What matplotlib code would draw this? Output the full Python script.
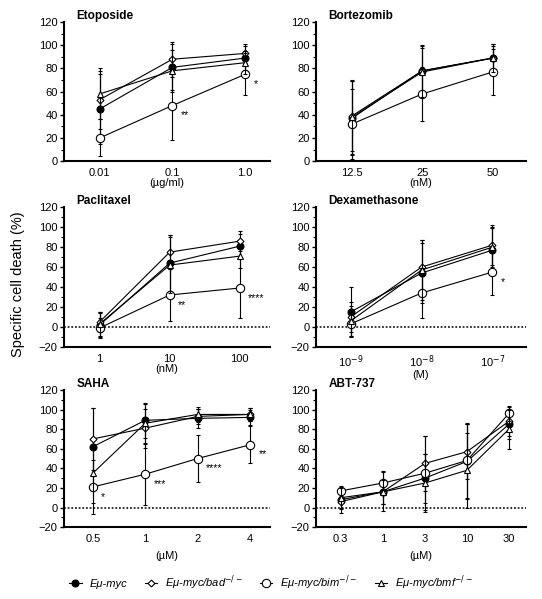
import matplotlib
matplotlib.use("Agg")
import matplotlib.pyplot as plt
from matplotlib.ticker import MultipleLocator
from matplotlib.lines import Line2D

plt.rcParams['font.family'] = ['Liberation Sans', 'DejaVu Sans']

# series order: Eu-myc, Eu-myc/bad-/-, Eu-myc/bim-/-, Eu-myc/bmf-/-
series_names = ['E\u03bc-myc', 'E\u03bc-myc/bad$^{-/-}$', 'E\u03bc-myc/bim$^{-/-}$', 'E\u03bc-myc/bmf$^{-/-}$']

eto_doses = ['0.01', '0.1', '1.0']
eto_mean = [[45, 81, 89], [53, 88, 93], [20, 48, 75], [58, 78, 85]]
eto_err = [[30, 20, 10], [25, 15, 8], [16, 30, 18], [22, 18, 10]]
eto_stars = ['', '**', '*']

bort_doses = ['12.5', '25', '50']
bort_mean = [[37, 78, 89], [39, 78, 89], [32, 58, 77], [38, 77, 89]]
bort_err = [[32, 22, 12], [30, 20, 10], [30, 23, 20], [32, 22, 12]]
bort_stars = ['', '', '']

pacl_doses = ['1', '10', '100']
pacl_mean = [[2, 64, 81], [5, 75, 86], [-1, 32, 39], [3, 62, 71]]
pacl_err = [[12, 28, 12], [10, 17, 10], [10, 26, 30], [12, 28, 12]]
pacl_stars = ['', '**', '****']

dexa_doses = ['10$^{-9}$', '10$^{-8}$', '10$^{-7}$']
dexa_mean = [[15, 54, 77], [10, 60, 82], [3, 34, 55], [6, 57, 80]]
dexa_err = [[25, 30, 22], [15, 27, 20], [12, 25, 23], [15, 30, 20]]
dexa_stars = ['', '', '*']

saha_doses = ['0.5', '1', '2', '4']
saha_mean = [[62, 89, 91, 92], [70, 81, 93, 95], [21, 34, 50, 64], [35, 86, 95, 95]]
saha_err = [[40, 18, 10, 8], [32, 20, 8, 7], [28, 31, 24, 19], [30, 20, 8, 7]]
saha_stars = ['*', '***', '****', '**']

abt_doses = ['0.3', '1', '3', '10', '30']
abt_mean = [[8, 16, 30, 47, 85], [6, 16, 45, 57, 88], [17, 25, 35, 48, 96], [10, 16, 25, 38, 80]]
abt_err = [[10, 20, 25, 38, 15], [12, 12, 28, 28, 15], [5, 12, 38, 38, 8], [10, 12, 30, 38, 20]]
abt_stars = ['', '', '', '', '']

styles = [
    dict(marker='o', mfc='black', ms=5),
    dict(marker='D', mfc='white', ms=3.5),
    dict(marker='o', mfc='white', ms=6),
    dict(marker='^', mfc='white', ms=4.5),
]


def panel(rect, title, doses, means, errs, stars, unit, ymin, xl, unit_pad):
    ax = fig.add_axes(rect)
    xs = list(range(len(doses)))
    for k in [0, 1, 3, 2]:
        ax.errorbar(xs, means[k], yerr=errs[k], color='black', lw=0.8,
                    elinewidth=0.8, capsize=1.5, mec='black', mew=0.8,
                    **styles[k], zorder=3 + k)
    for i, s in enumerate(stars):
        if s:
            ax.annotate(s, (xs[i], means[2][i]), xytext=(6, -7),
                        textcoords='offset points', fontsize=7.5, va='center')
    ax.set_ylim(ymin, 120)
    ax.set_xlim(*xl)
    ax.set_yticks(range(ymin, 121, 20))
    ax.yaxis.set_minor_locator(MultipleLocator(10))
    ax.set_xticks(xs)
    ax.set_xticklabels(doses)
    ax.tick_params(axis='x', length=0, labelsize=8, pad=5)
    ax.tick_params(axis='y', which='major', length=3, width=1, labelsize=8, pad=1.5)
    ax.tick_params(axis='y', which='minor', length=2, width=0.8)
    for side in ['top', 'right']:
        ax.spines[side].set_visible(False)
    for side in ['left', 'bottom']:
        ax.spines[side].set_linewidth(1.5)
    if ymin < 0:
        ax.axhline(0, color='black', ls=(0, (1.2, 1.2)), lw=1.1, zorder=1)
    ax.set_xlabel(unit, fontsize=8, labelpad=unit_pad)
    ax.text(0.06, 1.0, title, transform=ax.transAxes, fontsize=8.5,
            fontweight='bold', va='bottom')
    return ax


fig = plt.figure(figsize=(5.42, 5.99), dpi=100)

panel([0.118, 0.731, 0.380, 0.232], 'Etoposide', eto_doses, eto_mean, eto_err,
      eto_stars, '(\u00b5g/ml)', 0, (-0.49, 2.34), 0)
panel([0.583, 0.731, 0.387, 0.232], 'Bortezomib', bort_doses, bort_mean, bort_err,
      bort_stars, '(nM)', 0, (-0.51, 2.47), 0)
panel([0.118, 0.421, 0.380, 0.233], 'Paclitaxel', pacl_doses, pacl_mean, pacl_err,
      pacl_stars, '(nM)', -20, (-0.51, 2.43), 0)
panel([0.583, 0.421, 0.387, 0.233], 'Dexamethasone', dexa_doses, dexa_mean, dexa_err,
      dexa_stars, '(M)', -20, (-0.49, 2.47), 0)
panel([0.118, 0.120, 0.380, 0.229], 'SAHA', saha_doses, saha_mean, saha_err,
      saha_stars, '(\u00b5M)', -20, (-0.55, 3.38), 5)
panel([0.583, 0.120, 0.387, 0.229], 'ABT-737', abt_doses, abt_mean, abt_err,
      abt_stars, '(\u00b5M)', -20, (-0.59, 4.4), 5)

fig.text(0.033, 0.525, 'Specific cell death (%)', rotation=90, fontsize=10.5,
         ha='center', va='center')

handles = [Line2D([], [], color='black', lw=0.8, mec='black', mew=0.8, **st)
           for st in styles]
fig.legend(handles, series_names, loc='center', bbox_to_anchor=(0.5, 0.027),
           ncol=4, frameon=False, prop=dict(style='italic', size=8),
           handlelength=1.1, handletextpad=0.7, columnspacing=1.6)

fig.savefig('out.png', dpi=100)
